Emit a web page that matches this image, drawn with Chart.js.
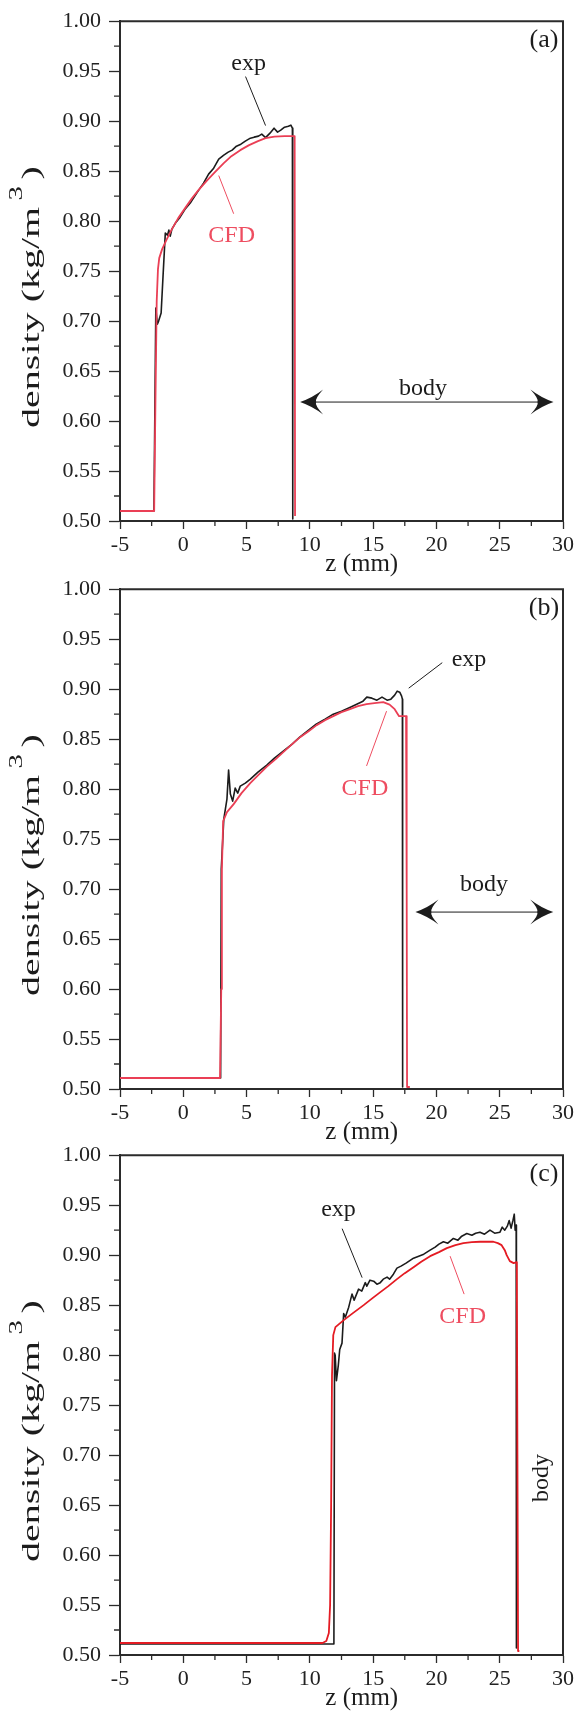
<!DOCTYPE html>
<html>
<head>
<meta charset="utf-8">
<script src="https://cdn.jsdelivr.net/npm/chart.js@4.4.1/dist/chart.umd.min.js"></script>
<style>
  body { margin: 0; background: #fff; width: 577px; height: 1714px; position: relative; overflow: hidden; }
  .panel { position: absolute; left: 0; width: 577px; height: 580px; }
</style>
</head>
<body>
<div class="panel" style="top:0"><canvas id="chartA" width="577" height="580"></canvas></div>
<div class="panel" style="top:568px"><canvas id="chartB" width="577" height="580"></canvas></div>
<div class="panel" style="top:1134px"><canvas id="chartC" width="577" height="580"></canvas></div>
<script>
// panel (a)
const zExpA = [-5, -2.32, -2.17, -2.05, -1.95, -1.75, -1.6, -1.42, -1.25, -1.14, -1.03, -0.9, -0.62, -0.3, 0.17, 0.6, 1.22, 1.6, 2.0, 2.4, 2.8, 3.2, 3.55, 3.86, 4.2, 4.55, 4.9, 5.3, 5.6, 5.94, 6.2, 6.5, 6.85, 7.17, 7.45, 7.7, 8.0, 8.3, 8.5, 8.62, 8.65];
const rhoExpA = [0.510, 0.510, 0.713, 0.697, 0.700, 0.708, 0.745, 0.788, 0.786, 0.791, 0.785, 0.792, 0.798, 0.803, 0.8125, 0.819, 0.831, 0.838, 0.847, 0.853, 0.862, 0.866, 0.869, 0.871, 0.875, 0.877, 0.880, 0.883, 0.884, 0.885, 0.887, 0.8835, 0.888, 0.893, 0.889, 0.891, 0.894, 0.895, 0.896, 0.893, 0.502];
const zCfdA = [-5, -2.3, -2.2, -2.1, -2.0, -1.9, -1.67, -1.3, -0.9, -0.4, 0.2, 0.7, 1.2, 1.9, 2.5, 3.2, 3.8, 4.5, 5.2, 5.9, 6.5, 7.2, 8.0, 8.8, 8.83];
const rhoCfdA = [0.510, 0.510, 0.62, 0.72, 0.752, 0.763, 0.772, 0.782, 0.792, 0.803, 0.814, 0.823, 0.831, 0.841, 0.849, 0.858, 0.865, 0.871, 0.876, 0.880, 0.883, 0.8845, 0.885, 0.885, 0.505];

// panel (b)
const zExpB = [-5, 2.95, 3.0, 3.2, 3.45, 3.58, 3.72, 3.9, 4.1, 4.3, 4.5, 4.9, 5.3, 5.9, 6.6, 7.2, 7.9, 8.6, 9.2, 9.9, 10.5, 11.2, 11.85, 12.5, 13.2, 13.7, 14.2, 14.5, 14.9, 15.3, 15.7, 16.1, 16.4, 16.7, 16.9, 17.1, 17.25, 17.31, 17.33];
const rhoExpB = [0.511, 0.511, 0.72, 0.77, 0.79, 0.819, 0.795, 0.788, 0.801, 0.796, 0.803, 0.806, 0.810, 0.817, 0.824, 0.831, 0.838, 0.845, 0.852, 0.859, 0.865, 0.870, 0.875, 0.878, 0.882, 0.885, 0.888, 0.892, 0.891, 0.889, 0.892, 0.889, 0.890, 0.894, 0.898, 0.897, 0.893, 0.890, 0.502];
const zCfdB = [-5, 2.9, 3.0, 3.05, 3.15, 3.45, 3.98, 4.6, 5.29, 6.0, 6.6, 7.3, 7.9, 8.6, 9.23, 9.9, 10.54, 11.2, 11.85, 12.5, 13.17, 13.8, 14.48, 15.1, 15.8, 16.3, 16.7, 17.05, 17.6, 17.65, 17.68, 17.9];
const rhoCfdB = [0.511, 0.511, 0.60, 0.72, 0.768, 0.777, 0.785, 0.796, 0.806, 0.815, 0.8225, 0.830, 0.837, 0.845, 0.852, 0.858, 0.864, 0.869, 0.873, 0.877, 0.880, 0.883, 0.885, 0.886, 0.887, 0.8846, 0.880, 0.873, 0.873, 0.70, 0.502, 0.502];

// panel (c)
const zExpC = [-5, 11.9, 11.95, 12.0, 12.1, 12.25, 12.36, 12.54, 12.67, 12.8, 13.07, 13.33, 13.5, 13.85, 14.1, 14.38, 14.5, 14.75, 15.04, 15.3, 15.56, 15.8, 16.1, 16.3, 16.6, 16.88, 17.2, 17.6, 18.19, 18.6, 19.0, 19.5, 19.9, 20.2, 20.55, 20.9, 21.34, 21.7, 22.0, 22.4, 22.8, 23.1, 23.44, 23.8, 24.23, 24.6, 25.02, 25.2, 25.4, 25.6, 25.75, 25.9, 26.05, 26.15, 26.22, 26.3, 26.32];
const rhoExpC = [0.511, 0.511, 0.802, 0.800, 0.7745, 0.790, 0.8056, 0.812, 0.8415, 0.838, 0.848, 0.861, 0.855, 0.866, 0.864, 0.8725, 0.869, 0.875, 0.874, 0.871, 0.8725, 0.876, 0.878, 0.876, 0.881, 0.887, 0.889, 0.892, 0.897, 0.899, 0.901, 0.905, 0.908, 0.911, 0.9134, 0.912, 0.9167, 0.915, 0.919, 0.9216, 0.920, 0.922, 0.923, 0.921, 0.925, 0.922, 0.923, 0.928, 0.925, 0.929, 0.9346, 0.927, 0.935, 0.941, 0.925, 0.930, 0.507];
const zCfdC = [-5, 11.0, 11.3, 11.5, 11.6, 11.68, 11.75, 11.85, 12.02, 12.3, 12.68, 13.4, 14.25, 14.9, 15.57, 16.2, 16.88, 17.5, 18.19, 18.8, 19.5, 20.2, 20.82, 21.5, 22.13, 22.8, 23.44, 24.0, 24.5, 24.85, 25.15, 25.4, 25.55, 25.8, 26.1, 26.35, 26.4, 26.45, 26.55];
const rhoCfdC = [0.512, 0.512, 0.514, 0.522, 0.55, 0.65, 0.78, 0.82, 0.828, 0.831, 0.835, 0.842, 0.850, 0.8565, 0.863, 0.869, 0.876, 0.882, 0.888, 0.8935, 0.899, 0.903, 0.907, 0.910, 0.912, 0.913, 0.9134, 0.9135, 0.9134, 0.912, 0.910, 0.905, 0.900, 0.894, 0.892, 0.893, 0.70, 0.504, 0.504];

const zRange = [-5, 30];
const rhoRange = [0.5, 1.0];
const xTitle = 'z (mm)';
const yTitle = ['density (kg/m', '3', ')'];

// labels and leaders, in data units (z, density)
const notesA = { tag: '(a)', tagAt: [28.5, 0.980],
  exp: { at: [5.16, 0.954], from: [4.92, 0.9446], to: [6.5, 0.8956] },
  cfd: { at: [3.82, 0.787], from: [3.98, 0.8074], to: [2.8, 0.8456] },
  body: { at: [18.94, 0.632], arrow: [9.23, 29.25, 0.619] } };
const notesB = { tag: '(b)', tagAt: [28.5, 0.980],
  exp: { at: [22.57, 0.9265], from: [20.46, 0.9265], to: [17.81, 0.901] },
  cfd: { at: [14.35, 0.802], from: [14.48, 0.8232], to: [16.06, 0.878] },
  body: { at: [23.76, 0.704], arrow: [18.34, 29.23, 0.677] } };
const notesC = { tag: '(c)', tagAt: [28.5, 0.980],
  exp: { at: [12.26, 0.942], from: [12.55, 0.9265], to: [14.13, 0.8775] },
  cfd: { at: [22.07, 0.840], from: [22.19, 0.861], to: [21.08, 0.899] },
  body: { at: [28.4, 0.677], vertical: true } };

const SERIF = '"Liberation Serif", "Times New Roman", serif';
const INK = '#1c1c1c';
const AXIS = '#2b2b2b';
const CFD_TEXT = '#ee4d60';

function isMajor(v, step) {
  const r = v / step;
  return Math.abs(r - Math.round(r)) < 1e-6;
}

function pts(zs, ys) {
  return zs.map((z, i) => ({ x: z, y: ys[i] }));
}

const framePlugin = {
  id: 'frame',
  afterDraw(chart) {
    const { ctx, chartArea: a, scales: { x, y } } = chart;
    ctx.save();
    ctx.strokeStyle = AXIS;
    ctx.lineWidth = 2;
    ctx.beginPath();
    ctx.moveTo(a.left - 1, a.top);
    ctx.lineTo(a.right, a.top);
    ctx.lineTo(a.right, a.bottom + 1);
    ctx.stroke();
    // short minor ticks
    ctx.lineWidth = 1.3;
    ctx.beginPath();
    x.ticks.forEach(t => {
      if (isMajor(t.value, 5)) return;
      const px = x.getPixelForValue(t.value);
      ctx.moveTo(px, a.bottom);
      ctx.lineTo(px, a.bottom + 5);
    });
    y.ticks.forEach(t => {
      if (isMajor(t.value, 0.05)) return;
      const py = y.getPixelForValue(t.value);
      ctx.moveTo(a.left, py);
      ctx.lineTo(a.left - 6, py);
    });
    ctx.stroke();
    ctx.restore();
  }
};

function text(ctx, str, px, py, size, color, dy) {
  ctx.font = size + 'px ' + SERIF;
  ctx.fillStyle = color;
  ctx.textAlign = 'center';
  ctx.textBaseline = 'alphabetic';
  ctx.fillText(str, px, py + dy);
}

function line(ctx, x1, y1, x2, y2, color) {
  ctx.strokeStyle = color;
  ctx.lineWidth = 1;
  ctx.beginPath();
  ctx.moveTo(x1, y1);
  ctx.lineTo(x2, y2);
  ctx.stroke();
}

function arrowHead(ctx, tipX, py, dir) {
  const L = 23, H = 12.5, N = 16;
  ctx.beginPath();
  ctx.moveTo(tipX, py);
  ctx.quadraticCurveTo(tipX - dir * L * 0.55, py - H * 0.35, tipX - dir * L, py - H);
  ctx.quadraticCurveTo(tipX - dir * N * 0.9, py - 3, tipX - dir * N, py);
  ctx.quadraticCurveTo(tipX - dir * N * 0.9, py + 3, tipX - dir * L, py + H);
  ctx.quadraticCurveTo(tipX - dir * L * 0.55, py + H * 0.35, tipX, py);
  ctx.fill();
}

function notesPlugin(notes) {
  return {
    id: 'notes',
    afterDraw(chart) {
      const { ctx, chartArea: a, scales: { x, y } } = chart;
      const X = v => x.getPixelForValue(v);
      const Y = v => y.getPixelForValue(v);
      ctx.save();

      // y title, stretched along its length like the original
      ctx.save();
      ctx.translate(39, (a.top + a.bottom) / 2 + 26);
      ctx.rotate(-Math.PI / 2);
      ctx.scale(1.6, 1);
      ctx.fillStyle = INK;
      ctx.textAlign = 'left';
      ctx.textBaseline = 'alphabetic';
      ctx.font = '25px ' + SERIF;
      const wMain = ctx.measureText(yTitle[0]).width;
      const wClose = ctx.measureText(yTitle[2]).width;
      ctx.font = '18px ' + SERIF;
      const wSup = ctx.measureText(yTitle[1]).width;
      const gap = 4;
      let cx = -(wMain + gap + wSup + gap + wClose) / 2;
      ctx.font = '25px ' + SERIF;
      ctx.fillText(yTitle[0], cx, 0);
      cx += wMain + gap;
      ctx.font = '18px ' + SERIF;
      ctx.fillText(yTitle[1], cx, -17);
      cx += wSup + gap;
      ctx.font = '25px ' + SERIF;
      ctx.fillText(yTitle[2], cx, 0);
      ctx.restore();

      // x title
      text(ctx, xTitle, X(14.1), a.bottom + 44, 25, INK, 6);

      // panel tag
      text(ctx, notes.tag, X(notes.tagAt[0]), Y(notes.tagAt[1]), 26, INK, 6);

      // exp label
      const e = notes.exp;
      text(ctx, 'exp', X(e.at[0]), Y(e.at[1]), 24, INK, 3);
      line(ctx, X(e.from[0]), Y(e.from[1]), X(e.to[0]), Y(e.to[1]), INK);

      // CFD label
      const c = notes.cfd;
      text(ctx, 'CFD', X(c.at[0]), Y(c.at[1]), 24, CFD_TEXT, 8);
      line(ctx, X(c.from[0]), Y(c.from[1]), X(c.to[0]), Y(c.to[1]), CFD_TEXT);

      // body marker
      const b = notes.body;
      if (b.vertical) {
        ctx.save();
        ctx.translate(X(b.at[0]), Y(b.at[1]));
        ctx.rotate(-Math.PI / 2);
        text(ctx, 'body', 0, 0, 24, INK, 5.5);
        ctx.restore();
      } else {
        text(ctx, 'body', X(b.at[0]), Y(b.at[1]), 24, INK, 5.5);
        const x1 = X(b.arrow[0]), x2 = X(b.arrow[1]), py = Y(b.arrow[2]);
        line(ctx, x1 + 10, py, x2 - 10, py, INK);
        ctx.fillStyle = INK;
        arrowHead(ctx, x1, py, -1);
        arrowHead(ctx, x2, py, 1);
      }
      ctx.restore();
    }
  };
}

function makeChart(id, exp, cfd, cfdColor, notes) {
  const tickFont = { family: SERIF, size: 22 };
  return new Chart(document.getElementById(id), {
    type: 'line',
    data: {
      datasets: [
        { label: 'CFD', data: cfd, borderColor: cfdColor, borderWidth: 1.8 },
        { label: 'exp', data: exp, borderColor: INK, borderWidth: 1.6 }
      ]
    },
    options: {
      responsive: false,
      animation: false,
      events: [],
      layout: { padding: { top: 11, right: 12, left: 0, bottom: 0 } },
      elements: {
        point: { radius: 0 },
        line: { tension: 0, fill: false, borderJoinStyle: 'round' }
      },
      plugins: { legend: { display: false }, tooltip: { enabled: false } },
      scales: {
        x: {
          type: 'linear',
          min: zRange[0], max: zRange[1],
          afterFit: s => { s.height = 59; },
          border: { color: AXIS, width: 2 },
          grid: {
            drawOnChartArea: false, tickLength: 8, tickWidth: 1.3,
            tickColor: c => isMajor(c.tick.value, 5) ? AXIS : 'rgba(0,0,0,0)'
          },
          ticks: {
            stepSize: 2.5, autoSkip: false, maxRotation: 0, padding: 3,
            color: '#222', font: tickFont,
            callback: v => isMajor(v, 5) ? String(Math.round(v)) : ''
          }
        },
        y: {
          min: rhoRange[0], max: rhoRange[1],
          afterFit: s => { s.width = 120; },
          border: { color: AXIS, width: 2 },
          grid: {
            drawOnChartArea: false, tickLength: 11, tickWidth: 1.3,
            tickColor: c => isMajor(c.tick.value, 0.05) ? AXIS : 'rgba(0,0,0,0)'
          },
          ticks: {
            stepSize: 0.025, autoSkip: false, padding: 8,
            color: '#222', font: tickFont,
            callback: v => isMajor(v, 0.05) ? v.toFixed(2) : ''
          }
        }
      }
    },
    plugins: [framePlugin, notesPlugin(notes)]
  });
}

makeChart('chartA', pts(zExpA, rhoExpA), pts(zCfdA, rhoCfdA), '#ea3f55', notesA);
makeChart('chartB', pts(zExpB, rhoExpB), pts(zCfdB, rhoCfdB), '#ea3f55', notesB);
makeChart('chartC', pts(zExpC, rhoExpC), pts(zCfdC, rhoCfdC), '#e41b23', notesC);
</script>
</body>
</html>
